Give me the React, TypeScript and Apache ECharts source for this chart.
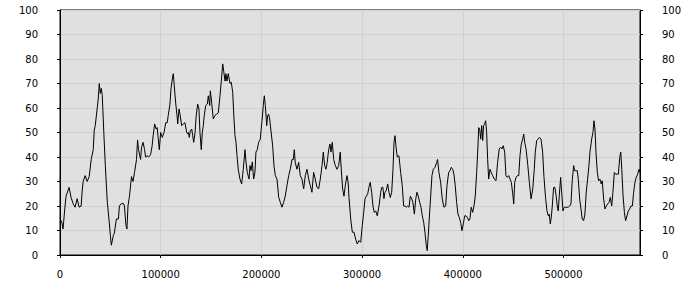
import React, { useEffect, useRef } from "react";
import * as echarts from "echarts";

const xTickValues = [0, 100000, 200000, 300000, 400000, 500000];
const yTickValues = [0, 10, 20, 30, 40, 50, 60, 70, 80, 90, 100];

const xValues = [
  0, 2000, 3000, 5000, 6000, 9000, 11000, 13000, 15000, 17000, 19000, 21000, 22000, 23000, 25000, 27000, 29000, 31000, 33000, 34000,
  35000, 38000, 39000, 40000, 41000, 42000, 43500, 45000, 47000, 49000, 50000, 51000, 53000, 54000, 56000, 58000, 59000, 61000, 63000, 64000,
  65500, 66500, 67500, 69000, 71000, 72500, 74000, 76000, 77000, 78000, 80000, 81000, 82500, 84000, 85000, 86500, 88000, 90000, 91500, 92500,
  94000, 95500, 96500,
  97600, 98600, 100000, 101600, 103300, 105000, 106500, 107500, 109200, 110200, 111500, 112500, 113500, 114900, 116200, 116900, 118200, 119200,
  120800, 122400, 124100, 125800, 126800, 127400, 128400, 129400, 130800, 131800, 132800, 134100, 135300, 136700, 138000, 139000, 140300, 141300,
  142300, 143300, 144700, 146300, 147300, 148700, 149300, 150600, 152200, 153900, 155600, 157200, 158900, 160600, 161600, 162600, 163900, 164800,
  165800, 167100, 168800, 170100, 171500, 172800, 173800, 174800, 175800, 177000, 178700, 180400, 182000, 183700, 184700, 186000, 187700, 188700,
  189700, 191000, 192300, 193600,
  194600, 195900, 197300, 198900, 200600, 201900, 202900, 203900, 205300, 206200, 207200, 208200, 209500, 211200, 212500, 213800, 215500, 217200,
  218800, 220400, 222100, 223700, 225400, 227100, 228700, 230400, 231700, 232700, 233600, 235300, 237000, 238600, 240300, 242000, 243600, 245300,
  247000, 248600, 250200, 251900, 253500, 255200, 256900, 258500, 260200, 261500, 262800, 264100, 265400, 266800, 268100, 269100, 270400, 271800,
  273400, 275100, 276800, 278300, 279300, 280700, 282000, 283300, 285000, 286200,
  287000, 288700, 290300, 292000, 293600, 295200, 296900, 298600, 300200, 301600, 302900, 304200, 305600, 306800, 308100, 309500, 310800, 312100,
  313500, 315100, 316800, 318500, 319500, 320700, 321700, 322700, 324000, 325400, 326700, 328000, 329400, 330700, 331700, 332700, 333600, 334900,
  336600, 338300, 339900, 341300, 342600, 343900, 345300, 346600, 347900, 349300, 350500, 351900, 353300, 354500, 355800, 357200, 358500, 359800,
  361200, 362400, 363800, 364700, 365700, 366700, 368100, 369400, 370700, 372400, 374100, 375000, 376300, 378000, 379600, 381300, 383000,
  384300, 386000, 387300, 388600, 390000, 391200, 392500, 393900, 395200, 396500, 397900, 399200, 400500, 401900, 403200, 404500, 405900, 407100,
  408400, 409800, 411100, 412400, 413800, 415100, 415800, 416800, 417800, 418800, 419800, 420700, 421700, 422700, 423700, 424700, 425700, 427000,
  428300, 429700, 431300, 433000, 434600, 436200, 437600, 438900, 440200, 441600, 442900, 444200, 445600, 446900, 448200, 449600, 450600, 451600,
  452900, 454200, 455600, 456800, 458100, 459500, 460500, 461500, 462800, 464500, 466100, 467800, 469500, 471000, 472000, 473400, 474700, 476000,
  477700, 479300, 480600, 482300,
  483600, 484900, 485900, 486900, 487900, 488900, 490200, 491500, 492800, 493800, 494800, 495800, 497200, 498200, 499500, 500800, 502200, 503500,
  504700, 506100, 507400, 508700, 510100, 511100, 512400, 513700, 514700, 516100, 517400, 518600, 520000, 521300, 522600, 524000, 525300, 526300,
  528000, 529300, 530300, 531300, 532300, 533600, 534900, 536200, 537500, 538500, 539900, 541200, 542500, 543900, 545200, 546500, 547900, 549100,
  550500, 551800, 553200, 554500, 555900, 556900, 557900, 559200, 560500, 561700, 563100, 564400, 565800, 567000, 568400, 569700, 571000, 572300,
  573700, 575000, 576000,
];

const yValues = [
  15, 13, 10.6, 20, 24, 27.6, 23.5, 21, 19.5, 23, 19.5, 20, 26, 30, 32.4, 30, 32, 39, 43, 51,
  52.8, 63.7, 70, 66, 68, 65, 50, 36.5, 21.5, 13, 8, 4, 8, 9, 14.7, 14.7, 20, 21, 21, 20,
  12, 10.6, 20, 24, 32, 30, 33.7, 39, 47, 43, 39, 44, 46, 43, 40, 40.5, 40, 41, 44.6, 48.7,
  53.5, 51.4, 52,
  47.3, 43, 50, 48, 50, 54, 54, 57, 61.6, 67.7, 71.8, 74, 69, 62, 57, 53.5, 59.6, 57.5,
  52.8, 53.5, 54, 50, 49.4, 50, 48, 50.7, 51.4, 48.7, 46, 50, 57, 61.6, 59.6, 50, 43, 50,
  52.8, 57, 61, 61.6, 65, 61, 67, 62.3, 55.5, 57, 57.5, 58, 65, 73, 78, 75, 71, 74,
  71, 74, 70, 70.5, 66.4, 55.5, 48.7, 46, 40.5, 35, 31, 29, 35, 43, 38, 33.7, 31, 36.5,
  34.4, 38, 31, 33.7,
  42, 43, 46, 47.3, 54.8, 61, 65, 61, 52.8, 57, 57.5, 55.5, 50.7, 44.6, 36.5, 32.4, 31, 23.5,
  21.5, 19.5, 21.5, 24, 28.3, 32.4, 35, 39, 39, 43, 37.8, 35, 37.8, 32.4, 31, 27, 32.4, 35,
  31, 28.3, 25.6, 33.7, 31, 27.6, 27, 31, 36.5, 42, 36.5, 35, 37.8, 43, 45.3, 42, 46, 39,
  36.5, 35, 36.5, 42, 35, 27, 24, 28.3, 32.4, 29.5,
  23.5, 14.7, 9.3, 9.3, 6.5, 4.5, 5.9, 5.2, 12, 17.4, 22.9, 24, 25, 27.6, 29.7, 25.6, 20, 17.4,
  18, 16, 20, 25.6, 27.6, 27.6, 23, 25.6, 26.3, 29, 25.6, 23.5, 25.6, 35, 46, 48.7, 44.6, 40,
  40.5, 33.7, 28.3, 20, 20, 19.5, 20, 19.5, 24, 22.9, 21.5, 16.7, 22.9, 25.6, 24, 21.5, 19.5, 16,
  13.3, 9.3, 3.8, 1.8, 7.9, 14.7, 24, 32.4, 35, 35.8, 37.8, 39, 33.7, 29.7, 22.9, 19.5, 20,
  28.3, 33.7, 34.4, 35.8, 35, 33, 28.3, 21.5, 16.7, 15.4, 13.3, 9.9, 12.7, 16, 16, 15.4, 14, 14.7,
  19.5, 17.4, 20, 24, 33.7, 44.6, 52, 51.4, 47.3, 52.8, 46.7, 52.8, 53.5, 54.8, 50, 39, 31, 35,
  33.7, 32.4, 31, 30.3, 37.8, 43.3, 44, 43.3, 44.6, 42, 32.4, 31.7, 32.4, 31, 29.7, 25, 20.8, 29.7,
  31.7, 32.4, 32.4, 40.5, 45.3, 47.3, 49.4, 46, 43.3, 37, 29.7, 22.9, 27, 35, 42, 46.7, 47.3, 48,
  47.3, 42, 32, 23,
  18, 16, 16.7, 12.7, 15.4, 20, 27.6, 27.6, 24, 20, 18, 24, 31.7, 25.6, 18, 19.5, 19.5, 19.5,
  19.5, 20, 20.8, 30.3, 36.5, 34.4, 34.4, 34.4, 31, 22.9, 18.8, 14.7, 14, 16.7, 25.6, 31, 36.5, 42,
  47.3, 50, 54.8, 51.4, 42, 33.7, 30.3, 31, 29, 30.3, 22.9, 18.8, 20, 20.8, 21.5, 23.5, 20, 25.6,
  33.7, 33, 33, 33, 39.9, 42, 35, 24, 17.4, 14, 16, 18, 18.8, 20, 20, 25.6, 29.7, 31.7,
  33, 35, 33.7,
];

const FONT = "DejaVu Sans";

export default function App() {
  const ref = useRef<HTMLDivElement>(null);
  useEffect(() => {
    document.body.style.margin = "0";
    if (!ref.current) return;
    const chart = echarts.init(ref.current, undefined, { renderer: "svg" });
    const data = xValues.map((x, i) => [x, yValues[i]]);
    const yAxisCommon = {
      type: "value" as const,
      min: 0,
      max: 100,
      interval: 10,
      axisLine: { show: true, lineStyle: { color: "#000", width: 1 } },
      axisTick: { show: true, length: 3, lineStyle: { color: "#000" } },
      axisLabel: {
        fontFamily: FONT,
        fontSize: 10,
        color: "#000",
        margin: 22,
        customValues: yTickValues,
        formatter: (v: number) => String(v),
      },
    };
    chart.setOption({
      animation: false,
      grid: {
        left: 60,
        right: 60,
        top: 10,
        bottom: 45,
        show: true,
        backgroundColor: "#e0e0e0",
        borderColor: "#000",
        borderWidth: 1,
      },
      xAxis: {
        type: "value",
        min: 0,
        max: 576000,
        interval: 100000,
        axisLine: { show: true, onZero: false, lineStyle: { color: "#000", width: 1 } },
        axisTick: { show: true, length: 3, lineStyle: { color: "#000" }, customValues: xTickValues },
        axisLabel: {
          fontFamily: FONT,
          fontSize: 10,
          color: "#000",
          margin: 14,
          customValues: xTickValues,
          formatter: (v: number) => String(v),
        },
        splitLine: { show: true, lineStyle: { color: "#d0d0d0", width: 1 } },
      },
      yAxis: [
        {
          ...yAxisCommon,
          position: "left",
          splitLine: { show: true, lineStyle: { color: "#d0d0d0", width: 1 } },
        },
        {
          ...yAxisCommon,
          position: "right",
          splitLine: { show: false },
        },
      ],
      series: [
        {
          type: "line",
          data,
          showSymbol: false,
          symbol: "none",
          lineStyle: { color: "#000", width: 1 },
          yAxisIndex: 0,
        },
      ],
    });
    return () => chart.dispose();
  }, []);
  return <div ref={ref} style={{ width: 700, height: 300 }} />;
}
